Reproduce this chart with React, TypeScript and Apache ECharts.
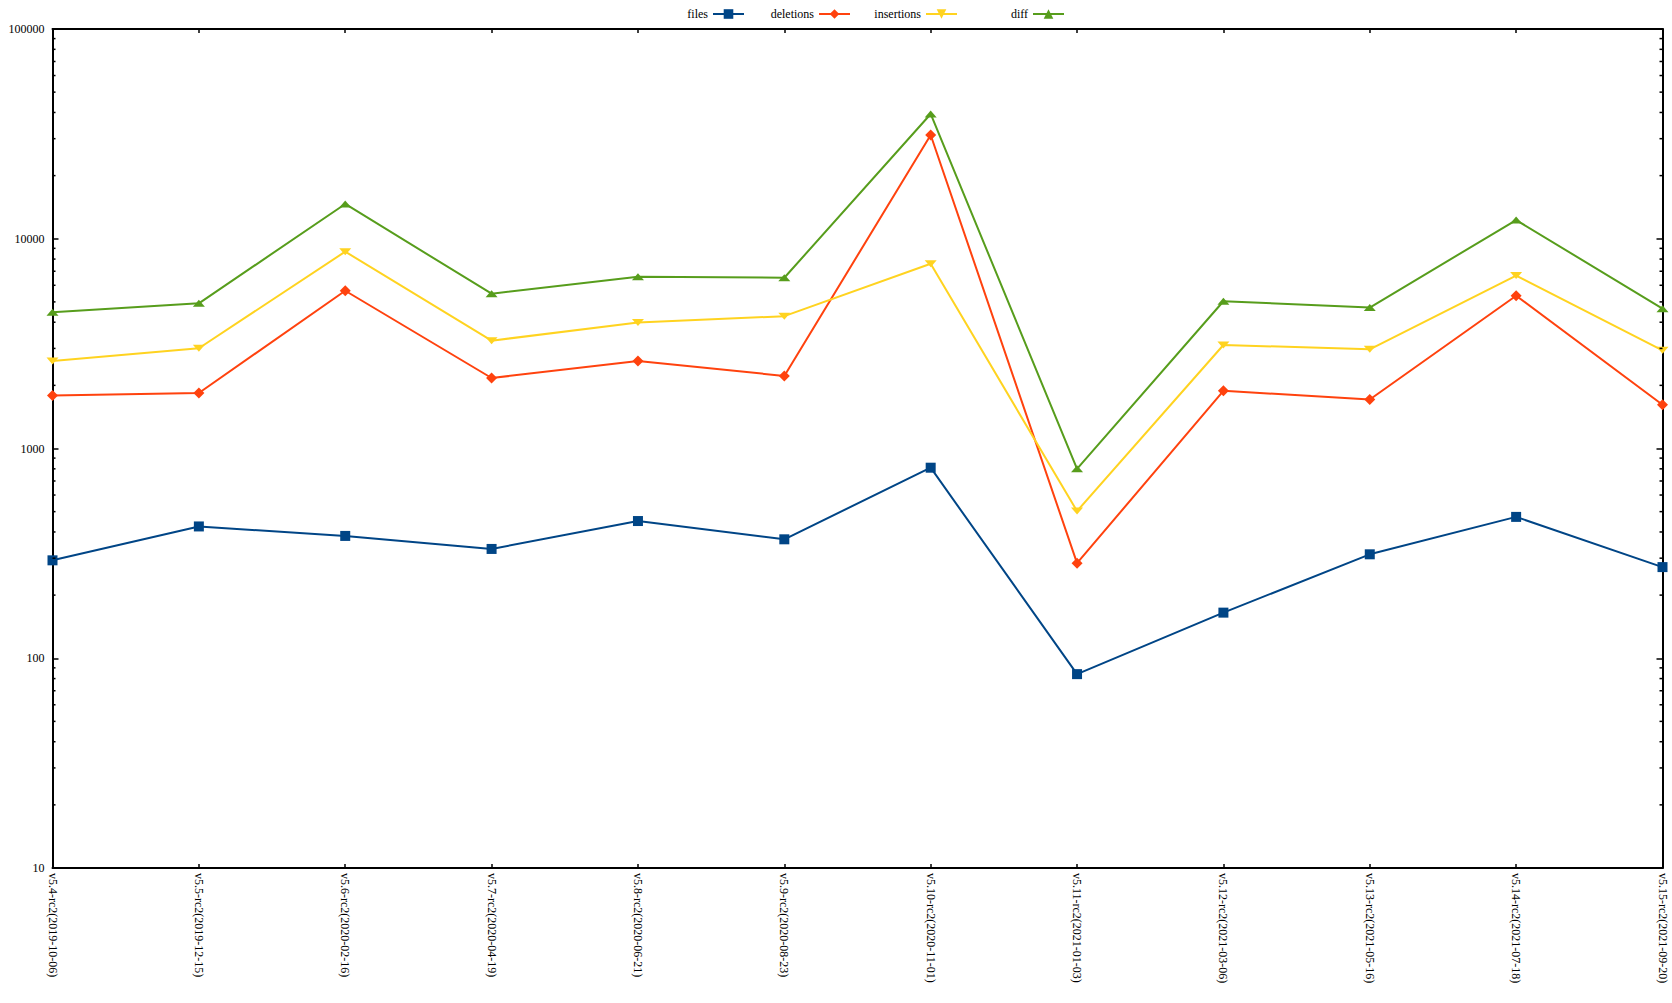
import React, { useEffect, useRef } from "react";
import * as echarts from "echarts";

const categories = [
  "v5.4-rc2(2019-10-06)",
  "v5.5-rc2(2019-12-15)",
  "v5.6-rc2(2020-02-16)",
  "v5.7-rc2(2020-04-19)",
  "v5.8-rc2(2020-06-21)",
  "v5.9-rc2(2020-08-23)",
  "v5.10-rc2(2020-11-01)",
  "v5.11-rc2(2021-01-03)",
  "v5.12-rc2(2021-03-06)",
  "v5.13-rc2(2021-05-16)",
  "v5.14-rc2(2021-07-18)",
  "v5.15-rc2(2021-09-20)",
];

const files = [293, 425, 383, 332, 451, 369, 810, 84, 165, 313, 472, 272];
const deletions = [1790, 1839, 5650, 2168, 2612, 2218, 31230, 284, 1883, 1713, 5349, 1617];
const insertions = [2612, 3006, 8680, 3267, 3986, 4275, 7600, 503, 3116, 2972, 6674, 2938];
const diff = [4460, 4920, 14650, 5470, 6593, 6516, 39340, 800, 5036, 4698, 12280, 4642];

const minorMultipliers = [2, 3, 4, 5, 6, 7, 8, 9];
const decades = [10, 100, 1000, 10000];

const FONT = "Liberation Serif";

export default function App() {
  const ref = useRef<HTMLDivElement>(null);

  useEffect(() => {
    if (!ref.current) return;
    const chart = echarts.init(ref.current, null, { renderer: "svg" });

    const minorTicks: number[][] = [];
    decades.forEach((d) => minorMultipliers.forEach((m) => minorTicks.push([0, d * m])));

    const lineSeries = (name: string, data: number[], color: string, symbol: string, size: any, rotate = 0) => ({
      name,
      type: "line",
      data,
      symbol,
      symbolSize: size,
      symbolRotate: rotate,
      showSymbol: true,
      lineStyle: { color, width: 2 },
      itemStyle: { color },
      xAxisIndex: 0,
      yAxisIndex: 0,
      z: 3,
    });

    const legendBase = {
      top: 8,
      padding: 0,
      align: "right",
      itemWidth: 31,
      itemHeight: 12,
      itemGap: 0,
      textStyle: { fontFamily: FONT, fontSize: 12, color: "#000" },
    };

    const option: any = {
      animation: false,
      backgroundColor: "#fff",
      legend: [
        { ...legendBase, data: ["files"], right: 927 },
        { ...legendBase, data: ["deletions"], right: 821 },
        { ...legendBase, data: ["insertions"], right: 714 },
        { ...legendBase, data: ["diff"], right: 607 },
      ],
      grid: { left: 52.5, right: 9.5, top: 29, bottom: 135, containLabel: false },
      xAxis: [
        {
          type: "category",
          data: categories,
          boundaryGap: false,
          position: "bottom",
          axisLine: { lineStyle: { color: "#000", width: 2 } },
          axisTick: { inside: true, length: 4, interval: 0, lineStyle: { color: "#000", width: 1.5 } },
          axisLabel: {
            rotate: -90,
            interval: 0,
            margin: 5,
            fontFamily: FONT,
            fontSize: 12,
            color: "#000",
          },
          splitLine: { show: false },
        },
        {
          type: "category",
          data: categories,
          boundaryGap: false,
          position: "top",
          axisLine: { lineStyle: { color: "#000", width: 2 } },
          axisTick: { inside: true, length: 4, interval: 0, lineStyle: { color: "#000", width: 1.5 } },
          axisLabel: { show: false },
          splitLine: { show: false },
        },
      ],
      yAxis: [
        {
          type: "log",
          logBase: 10,
          min: 10,
          max: 100000,
          position: "left",
          axisLine: { show: true, lineStyle: { color: "#000", width: 2 } },
          axisTick: { show: true, inside: true, length: 6, lineStyle: { color: "#000", width: 1.5 } },
          axisLabel: {
            fontFamily: FONT,
            fontSize: 12,
            color: "#000",
            margin: 8,
            formatter: (v: number) => String(Math.round(v)),
          },
          splitLine: { show: false },
        },
        {
          type: "log",
          logBase: 10,
          min: 10,
          max: 100000,
          position: "right",
          axisLine: { show: true, lineStyle: { color: "#000", width: 2 } },
          axisTick: { show: true, inside: true, length: 6, lineStyle: { color: "#000", width: 1.5 } },
          axisLabel: { show: false },
          splitLine: { show: false },
        },
      ],
      series: [
        lineSeries("files", files, "#004586", "rect", 10),
        lineSeries("deletions", deletions, "#ff420e", "diamond", 11),
        lineSeries("insertions", insertions, "#ffd320", "triangle", [12, 7], 180),
        lineSeries("diff", diff, "#579d1c", "triangle", [12, 7]),
        {
          type: "custom",
          name: "minorTicks",
          coordinateSystem: "cartesian2d",
          xAxisIndex: 0,
          yAxisIndex: 0,
          silent: true,
          data: minorTicks,
          z: 10,
          renderItem: (params: any, api: any) => {
            const y = api.coord([0, api.value(1)])[1];
            const cs = params.coordSys;
            return {
              type: "group",
              children: [
                {
                  type: "line",
                  shape: { x1: cs.x, y1: y, x2: cs.x + 3, y2: y },
                  style: { stroke: "#000", lineWidth: 1.5 },
                },
                {
                  type: "line",
                  shape: { x1: cs.x + cs.width, y1: y, x2: cs.x + cs.width - 3, y2: y },
                  style: { stroke: "#000", lineWidth: 1.5 },
                },
              ],
            };
          },
        },
      ],
    };

    chart.setOption(option);
    return () => chart.dispose();
  }, []);

  return (
    <div
      ref={ref}
      style={{ position: "fixed", left: 0, top: 0, width: 1672, height: 1003, background: "#fff" }}
    />
  );
}
